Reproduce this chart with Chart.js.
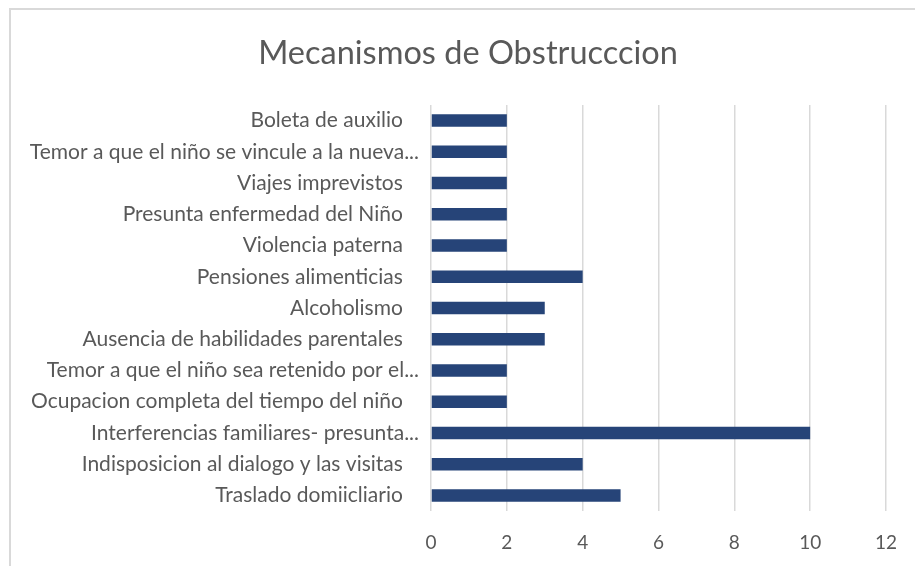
<!DOCTYPE html>
<html>
<head>
<meta charset="utf-8">
<script src="https://cdn.jsdelivr.net/npm/chart.js@4"></script>
<style>
  html, body { margin: 0; background: #fff; overflow: hidden; }
  #frame { position: absolute; left: 9px; top: 8px; width: 920px; height: 570px; border: 2px solid #d9d9d9; box-sizing: border-box; }
  #wrap { position: absolute; left: 0; top: 0; width: 915px; height: 566px; }
</style>
</head>
<body>
<div id="frame"></div>
<div id="wrap"><canvas id="chart1"></canvas></div>
<script>
// Categories, top to bottom as shown
const categories = [
  'Boleta de auxilio   ',
  'Temor a que el niño se vincule a la nueva...',
  'Viajes imprevistos   ',
  'Presunta enfermedad del Niño   ',
  'Violencia paterna   ',
  'Pensiones alimenticias   ',
  'Alcoholismo   ',
  'Ausencia de habilidades parentales   ',
  'Temor a que el niño sea retenido por el...',
  'Ocupacion completa del tiempo del niño   ',
  'Interferencias familiares- presunta...',
  'Indisposicion al dialogo y las visitas   ',
  'Traslado domiicliario   '
];
const counts = [2, 2, 2, 2, 2, 4, 3, 3, 2, 2, 10, 4, 5];
const xTicks = [0, 2, 4, 6, 8, 10, 12];

const fontFamily = "Lato, 'Open Sans', sans-serif";
const textColor = '#595959';

// nudge the title centre to the right, like the original frame
const titleShift = {
  id: 'titleShift',
  afterLayout(chart) {
    if (chart.titleBlock) chart.titleBlock.left += 50;
  }
};

let ctx = document.getElementById('chart1').getContext('2d');
new Chart(ctx, {
  type: 'bar',
  data: {
    labels: categories,
    datasets: [{
      label: 'Mecanismos',
      data: counts,
      backgroundColor: '#264478',
      borderWidth: 0,
      barPercentage: 0.4,
      categoryPercentage: 1
    }]
  },
  options: {
    indexAxis: 'y',
    responsive: true,
    maintainAspectRatio: false,
    animation: false,
    layout: { padding: { top: 0, right: 29, bottom: 10, left: 0 } },
    plugins: {
      legend: { display: false },
      tooltip: { enabled: false },
      title: {
        display: true,
        text: 'Mecanismos de Obstrucccion',
        color: textColor,
        font: { family: fontFamily, size: 32.5, weight: 'normal' },
        padding: { top: 34, bottom: 32 }
      }
    },
    scales: {
      x: {
        min: 0,
        max: 12,
        afterBuildTicks: scale => { scale.ticks = xTicks.map(v => ({ value: v })); },
        afterFit: scale => { scale.height = 45; },
        grid: { color: '#d9d9d9', lineWidth: 1.5, drawTicks: false },
        border: { display: false },
        // tall line height pushes the labels down without adding side padding
        ticks: { color: textColor, padding: 4, font: { family: fontFamily, size: 19, lineHeight: 2.95 } }
      },
      y: {
        afterFit: scale => { scale.width = 431; },
        grid: { display: false },
        border: { display: false },
        ticks: { color: textColor, padding: 4, autoSkip: false, font: { family: fontFamily, size: 21 } }
      }
    }
  },
  plugins: [titleShift]
});
</script>
</body>
</html>
